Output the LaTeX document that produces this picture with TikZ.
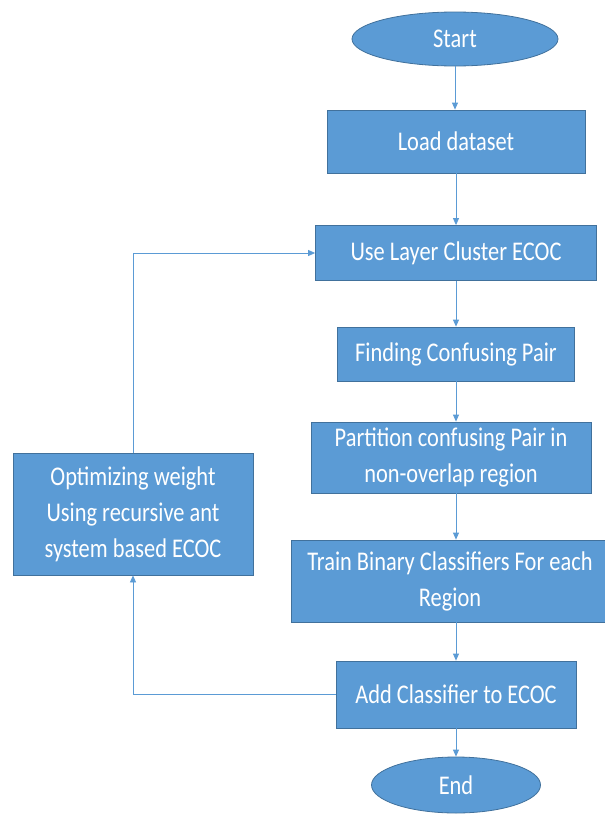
\documentclass[tikz,border=0pt]{standalone}
\usepackage{fontspec}
\setmainfont{Carlito}[FakeStretch=0.83]
\usetikzlibrary{shapes.geometric,arrows.meta}
\definecolor{boxfill}{HTML}{5B9BD5}
\definecolor{boxline}{HTML}{41719C}
\definecolor{arrline}{HTML}{5B9BD5}
\tikzset{
  box/.style={rectangle, fill=boxfill, draw=boxline, line width=0.8pt, text=white, font=\fontsize{27}{36}\selectfont, align=center, inner sep=0pt},
  oval/.style={ellipse, fill=boxfill, draw=boxline, line width=0.8pt, text=white, font=\fontsize{27}{36}\selectfont, inner sep=0pt},
  arr/.style={draw=arrline, line width=0.8pt, -{Triangle[width=6pt,length=7pt]}}
}
\begin{document}
\begin{tikzpicture}[x=1pt,y=-1pt]
\useasboundingbox (0,0) rectangle (605,814);
\node[oval, minimum width=206pt, minimum height=54pt] (start) at (455,39) {Start};
\node[box, minimum width=258pt, minimum height=63pt] (load) at (456,141.5) {Load dataset};
\node[box, minimum width=281pt, minimum height=55pt] (use) at (456,253) {Use Layer Cluster ECOC};
\node[box, minimum width=237pt, minimum height=54pt] (find) at (456,354) {Finding Confusing Pair};
\node[box, minimum width=280pt, minimum height=71pt] (part) at (451,457.5) {Partition confusing Pair in\\non-overlap region};
\node[box, minimum width=318pt, minimum height=82pt] (train) at (450,581) {Train Binary Classifiers For each\\Region};
\node[box, minimum width=240pt, minimum height=67pt] (add) at (456,694.5) {Add Classifier to ECOC};
\node[oval, minimum width=169pt, minimum height=56pt] (end) at (456,785) {End};
\node[box, minimum width=240pt, minimum height=122pt] (opt) at (133,514) {Optimizing weight\\Using recursive ant\\system based ECOC};
\draw[arr] (start.south) -- (start.south |- load.north);
\draw[arr] (load.south -| use.north) -- (use.north);
\draw[arr] (use.south) -- (find.north);
\draw[arr] (find.south) -- (find.south |- part.north);
\draw[arr] (find.south |- part.south) -- (find.south |- train.north);
\draw[arr] (find.south |- train.south) -- (add.north);
\draw[arr] (add.south) -- (end.north);
\draw[arr] (add.west) -| (opt.south);
\draw[arr] (opt.north) |- (use.west);
\end{tikzpicture}
\end{document}
